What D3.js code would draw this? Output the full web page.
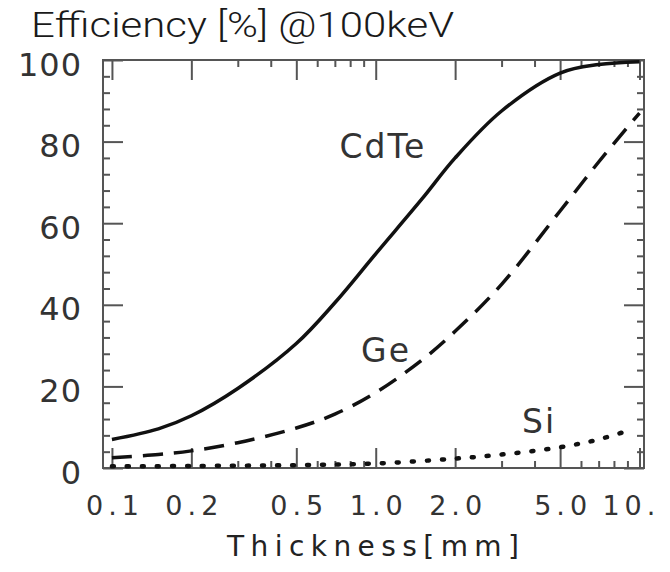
<!DOCTYPE html>
<html>
<head>
<meta charset="utf-8">
<script src="https://cdn.jsdelivr.net/npm/d3@7"></script>
<style>
  html, body { margin: 0; padding: 0; background: #fff; }
  svg { display: block; }
</style>
</head>
<body>
<div id="chart"></div>
<script>
// values (efficiency in % at 100 keV)
var thickness = [0.1, 0.15, 0.2, 0.3, 0.5, 0.7, 1.0, 1.5, 2.0, 3.0, 5.0, 7.0, 10.0];
var cdte = [7.0, 9.6, 12.8, 19.5, 30.5, 40.5, 52.5, 66.0, 76.0, 87.5, 96.8, 98.9, 99.6];
var ge = [2.5, 3.3, 4.2, 6.2, 9.8, 13.2, 18.5, 26.5, 33.5, 45.0, 63.0, 75.0, 87.0];
var siThickness = [0.1, 0.2, 0.5, 1.0, 2.0, 3.0, 5.0, 7.0, 9.5];
var si = [0.4, 0.5, 0.7, 1.1, 2.3, 3.3, 5.1, 7.0, 9.6];

var xMajor = [0.1, 0.2, 0.5, 1.0, 2.0, 5.0, 10.0];
var xLabels = ['0.1', '0.2', '0.5', '1.0', '2.0', '5.0', '10.0'];
var xMinor = [0.3, 0.4, 0.6, 0.7, 0.8, 0.9, 3, 4, 6, 7, 8, 9];
var yMajor = [0, 20, 40, 60, 80, 100];
var yMinor = [4, 8, 12, 16, 24, 28, 32, 36, 44, 48, 52, 56, 64, 68, 72, 76, 84, 88, 92, 96];

var W = 670, H = 572;
var pL = 103, pR = 644, pT = 60, pB = 468;

var x = d3.scaleLog().domain([0.0925, 10.4]).range([pL, pR]);
var y = d3.scaleLinear().domain([0, 100]).range([pB, pT]);

var svg = d3.select('#chart').append('svg')
    .attr('width', W)
    .attr('height', H);

// picture is cut on the right, the "10.0" label too
svg.append('clipPath').attr('id', 'cut')
  .append('rect').attr('x', 0).attr('y', 0).attr('width', 657).attr('height', H);

var g = svg.append('g').attr('clip-path', 'url(#cut)');

var ink = '#555';
var txt = '#333';

// title
g.append('text')
  .attr('x', 31)
  .attr('y', 37)
  .attr('textLength', 423)
  .attr('lengthAdjust', 'spacingAndGlyphs')
  .style('font-family', 'Roboto, "Liberation Sans", sans-serif')
  .style('font-weight', 300)
  .style('font-size', '35px')
  .attr('fill', '#1a1a1a')
  .text('Efficiency [%] @100keV');

function styleAxis(sel) {
  sel.select('.domain').remove();
  sel.selectAll('.tick line').attr('stroke', ink).attr('stroke-width', 2);
}

// bottom axis, ticks point inward
var xl = 5;
g.append('g')
  .attr('transform', 'translate(0,' + pB + ')')
  .call(d3.axisBottom(x).tickValues(xMajor).tickSize(-20).tickPadding(28)
    .tickFormat(function(d, i){ return xLabels[i]; }))
  .call(styleAxis)
  .call(function(s){
    s.selectAll('text')
      .attr('fill', txt)
      .attr('dx', xl / 2)
      .style('font-family', '"DejaVu Sans", sans-serif')
      .style('font-size', '27px')
      .style('letter-spacing', xl + 'px');
  });
g.append('g')
  .attr('transform', 'translate(0,' + pB + ')')
  .call(d3.axisBottom(x).tickValues(xMinor).tickSize(-7).tickFormat(''))
  .call(styleAxis);

// top axis
g.append('g')
  .attr('transform', 'translate(0,' + pT + ')')
  .call(d3.axisTop(x).tickValues(xMajor).tickSize(-20).tickFormat(''))
  .call(styleAxis);
g.append('g')
  .attr('transform', 'translate(0,' + pT + ')')
  .call(d3.axisTop(x).tickValues(xMinor).tickSize(-7).tickFormat(''))
  .call(styleAxis);

// left axis
g.append('g')
  .attr('transform', 'translate(' + pL + ',0)')
  .call(d3.axisLeft(y).tickValues(yMajor).tickSize(-20).tickPadding(21))
  .call(styleAxis)
  .call(function(s){
    s.selectAll('text')
      .attr('fill', txt)
      .attr('dy', '0.47em')
      .style('font-family', '"DejaVu Sans", sans-serif')
      .style('font-size', '32px')
      .style('letter-spacing', '1px');
  });
g.append('g')
  .attr('transform', 'translate(' + pL + ',0)')
  .call(d3.axisLeft(y).tickValues(yMinor).tickSize(-7).tickFormat(''))
  .call(styleAxis);

// right axis
g.append('g')
  .attr('transform', 'translate(' + pR + ',0)')
  .call(d3.axisRight(y).tickValues(yMajor).tickSize(-20).tickFormat(''))
  .call(styleAxis);
g.append('g')
  .attr('transform', 'translate(' + pR + ',0)')
  .call(d3.axisRight(y).tickValues(yMinor).tickSize(-7).tickFormat(''))
  .call(styleAxis);

// frame
g.append('rect')
  .attr('x', pL)
  .attr('y', pT)
  .attr('width', pR - pL)
  .attr('height', pB - pT)
  .attr('fill', 'none')
  .attr('stroke', ink)
  .attr('stroke-width', 2);

// curves
var line = d3.line()
    .x(function(d){ return x(d[0]); })
    .y(function(d){ return y(d[1]); })
    .curve(d3.curveCatmullRom.alpha(0.5));

var series = [
  { name: 'CdTe', xs: thickness, ys: cdte, dash: null, cap: 'butt', w: 3.5, lx: 382, ly: 158 },
  { name: 'Ge', xs: thickness, ys: ge, dash: '20 11', cap: 'butt', w: 3.5, lx: 385, ly: 362 },
  { name: 'Si', xs: siThickness, ys: si, dash: '2 13', cap: 'round', w: 4.5, lx: 538, ly: 433 }
];

series.forEach(function(s){
  var pts = s.xs.map(function(t, i){ return [t, s.ys[i]]; });
  g.append('path')
    .datum(pts)
    .attr('d', line)
    .attr('fill', 'none')
    .attr('stroke', '#111')
    .attr('stroke-width', s.w)
    .attr('stroke-linecap', s.cap)
    .attr('stroke-dasharray', s.dash);
  g.append('text')
    .attr('x', s.lx)
    .attr('y', s.ly)
    .attr('dx', 1)
    .attr('text-anchor', 'middle')
    .attr('fill', txt)
    .style('font-family', '"DejaVu Sans", sans-serif')
    .style('font-size', '33px')
    .style('letter-spacing', '2px')
    .text(s.name);
});

// axis title
g.append('text')
  .attr('x', 227)
  .attr('y', 556)
  .attr('textLength', 292)
  .attr('lengthAdjust', 'spacing')
  .attr('fill', '#222')
  .style('font-family', '"DejaVu Sans", sans-serif')
  .style('font-size', '28px')
  .text('Thickness[mm]');
</script>
</body>
</html>
